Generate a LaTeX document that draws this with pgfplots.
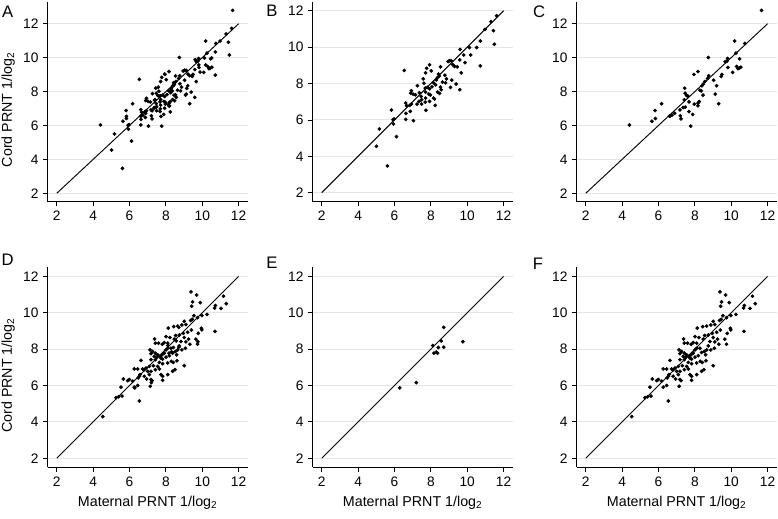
\documentclass[border=0pt]{standalone}
\usepackage{pgfplots}
\pgfplotsset{compat=1.18}
\usepackage{pgfplotstable}
\usepackage{fontspec}
\setmainfont{Liberation Sans}

\pgfplotstableread{
x y
11.62 11.73
11.31 11.40
10.98 10.98
11.44 10.91
11.49 10.16
10.72 10.34
10.52 9.98
10.12 9.98
9.61 9.88
9.81 9.57
10.19 9.57
9.59 9.30
9.88 9.15
10.72 8.97
9.67 8.59
9.03 9.26
9.12 9.25
8.95 9.21
9.21 9.03
9.30 8.94
9.45 8.92
6.54 8.72
7.93 9.03
7.77 8.84
8.02 8.70
7.71 8.59
8.53 8.92
8.42 8.52
8.46 8.41
8.77 8.46
8.86 8.26
9.15 8.19
9.39 7.97
9.59 7.66
9.08 7.79
8.64 8.08
8.81 8.04
8.37 8.33
8.30 8.20
8.15 8.04
8.26 7.93
8.53 7.80
8.57 7.66
8.37 7.53
8.06 7.82
7.93 7.71
7.82 7.79
7.69 7.75
7.71 7.53
7.58 8.26
7.62 8.02
7.26 7.88
6.93 7.60
6.89 7.47
7.02 7.42
7.15 7.38
7.37 7.49
7.47 7.29
7.71 7.20
7.97 7.37
8.15 7.20
8.20 7.15
7.93 7.02
7.69 6.98
7.49 6.87
7.24 6.87
7.35 7.02
6.93 6.87
6.62 6.93
6.67 6.78
6.84 6.80
8.24 6.80
7.73 6.53
6.87 6.47
6.63 6.36
5.83 6.54
5.98 6.05
5.92 6.01
6.62 6.03
7.04 5.96
5.94 5.78
5.17 5.50
6.11 5.08
5.01 4.55
7.89 7.42
8.48 7.46
7.49 7.11
5.61 3.47
}\tabB

\pgfplotstableread{
x y
11.67 12.79
10.75 10.84
10.19 10.98
10.26 10.27
10.46 9.93
9.80 9.95
9.67 9.76
9.75 9.78
9.82 9.42
10.08 9.13
10.30 9.48
10.44 9.38
10.53 9.44
10.37 9.35
8.74 10.01
9.49 9.01
9.45 8.89
9.03 8.67
8.76 8.93
8.70 8.77
8.17 9.18
7.95 9.01
8.46 8.44
8.55 8.59
8.39 8.34
9.20 8.34
9.12 7.85
9.31 7.28
8.28 8.08
8.35 8.04
8.45 7.79
7.44 8.20
7.47 7.90
7.55 7.77
7.62 7.73
7.42 7.51
7.68 7.39
7.97 7.26
8.17 7.32
8.24 7.41
8.17 7.16
7.36 7.06
7.47 7.08
7.18 6.92
7.68 6.82
7.88 6.65
7.20 6.57
7.24 6.39
6.89 6.72
6.74 6.61
6.65 6.57
6.61 6.55
6.17 7.28
5.81 6.88
5.83 6.41
5.64 6.25
4.40 6.03
7.77 5.96
}\tabC

\pgfplotstableread{
x y
6.29 5.87
7.20 6.16
8.11 8.20
8.17 7.78
8.30 7.84
8.37 7.78
8.41 8.09
8.57 8.45
8.71 9.20
8.71 8.11
9.76 8.41
}\tabE

\pgfplotstableread{
x y
9.38 11.15
9.69 10.98
9.47 10.60
9.89 10.56
9.42 10.36
11.17 10.91
10.72 10.40
10.68 10.26
11.03 10.24
11.32 10.50
10.26 9.91
9.98 9.85
9.54 9.84
9.74 9.73
9.45 9.64
9.36 9.58
9.01 9.53
8.88 9.33
9.10 9.35
8.65 9.27
8.43 9.24
8.13 9.16
9.95 9.15
9.98 9.06
10.70 8.98
9.78 8.87
9.40 9.05
9.20 8.93
8.96 8.87
8.74 8.78
8.54 8.75
8.46 8.55
8.22 8.64
8.01 8.69
7.91 8.36
8.10 8.33
7.38 8.56
7.42 8.33
7.60 8.33
7.80 8.27
9.01 8.64
9.25 8.55
9.65 8.55
9.74 8.27
9.32 8.27
9.10 8.40
8.83 8.42
8.74 8.18
8.88 7.96
9.07 8.05
8.65 7.96
8.52 7.87
8.37 7.82
8.28 8.05
8.10 8.05
8.01 7.96
7.91 7.78
7.79 7.69
7.68 7.60
7.55 7.69
7.42 7.78
7.27 7.87
7.13 7.96
7.18 7.75
7.36 7.60
7.51 7.56
7.73 7.51
7.82 7.45
8.01 7.56
8.19 7.64
8.59 7.69
8.61 7.36
8.30 7.33
8.41 7.27
8.10 7.24
7.82 7.20
7.64 7.27
7.42 7.42
7.18 7.42
7.09 7.05
6.91 6.96
6.81 6.87
6.72 6.91
7.00 6.78
7.31 7.09
7.55 7.05
7.64 6.91
7.42 6.87
7.18 6.78
7.09 6.60
7.73 6.60
7.82 6.51
7.82 6.29
8.10 6.60
8.37 6.78
8.50 6.87
9.01 7.09
6.63 7.38
6.45 6.91
6.26 6.91
6.58 6.60
6.54 6.51
6.48 6.42
6.81 6.51
6.94 6.36
7.18 6.33
7.24 6.27
7.14 5.96
6.45 6.00
6.26 5.91
5.99 6.33
5.90 6.27
5.66 6.36
6.17 6.24
5.53 5.91
5.59 5.42
5.40 5.38
5.26 5.33
6.54 5.15
4.53 4.29
}\tabF

\pgfplotsset{
  panel/.style={
    scale only axis, width=150pt, height=150pt,
    xmin=1.5, xmax=12.5, ymin=1.5, ymax=12.5,
    axis lines=left, axis line style={-, line width=0.6pt},
    xtick={2,4,...,12}, ytick={2,4,...,12},
    tick align=outside, major tick length=3.4pt,
    tick style={black, line width=0.6pt},
    ymajorgrids, grid style={black!10, line width=0.7pt},
    /pgf/number format/assume math mode=true,
    tick label style={font=\fontsize{10.3}{12}\selectfont},
    label style={font=\fontsize{10.7}{13}\selectfont},
    ylabel style={at={(axis description cs:-0.197,0.46)}, anchor=center},
    xlabel style={at={(axis description cs:0.5,-0.178)}, anchor=center},
  },
  pts/.style={only marks, mark=*, mark size=1.2pt, black},
  diag/.style={black, line width=0.7pt, no marks},
}

\begin{document}
\begin{tikzpicture}
\useasboundingbox (0,0) rectangle (583.5pt,388.5pt);

% A
\begin{axis}[panel, at={(35.78pt,237.2pt)}, anchor=south west, ymax=13.3,
  ylabel={Cord PRNT 1/log\textsubscript{2}}]
\addplot[diag] coordinates {(2,2) (12,12)};
\addplot[pts] table {\tabB};
\addplot[pts] table {\tabC};
\end{axis}

% B
\begin{axis}[panel, at={(234.5pt,237.2pt)}, anchor=south west]
\addplot[diag] coordinates {(2,2) (12,12)};
\addplot[pts] table {\tabB};
\end{axis}

% C
\begin{axis}[panel, at={(432.5pt,237.2pt)}, anchor=south west, ymax=13.3]
\addplot[diag] coordinates {(2,2) (12,12)};
\addplot[pts] table {\tabC};
\end{axis}

% D
\begin{axis}[panel, at={(35.78pt,38.0pt)}, anchor=south west,
  ylabel={Cord PRNT 1/log\textsubscript{2}},
  xlabel={Maternal PRNT 1/log\textsubscript{2}}]
\addplot[diag] coordinates {(2,2) (12,12)};
\addplot[pts] table {\tabE};
\addplot[pts] table {\tabF};
\end{axis}

% E
\begin{axis}[panel, at={(234.5pt,38.0pt)}, anchor=south west,
  xlabel={Maternal PRNT 1/log\textsubscript{2}}]
\addplot[diag] coordinates {(2,2) (12,12)};
\addplot[pts] table {\tabE};
\end{axis}

% F
\begin{axis}[panel, at={(432.5pt,38.0pt)}, anchor=south west,
  xlabel={Maternal PRNT 1/log\textsubscript{2}}]
\addplot[diag] coordinates {(2,2) (12,12)};
\addplot[pts] table {\tabF};
\end{axis}

\node[font=\fontsize{12.5}{14}\selectfont] at (5.8pt,379.5pt) {A};
\node[font=\fontsize{12.5}{14}\selectfont] at (204pt,380.6pt) {B};
\node[font=\fontsize{12.5}{14}\selectfont] at (404.3pt,379.9pt) {C};
\node[font=\fontsize{12.5}{14}\selectfont] at (5.8pt,193.5pt) {D};
\node[font=\fontsize{12.5}{14}\selectfont] at (204pt,191.6pt) {E};
\node[font=\fontsize{12.5}{14}\selectfont] at (403.5pt,190.5pt) {F};
\end{tikzpicture}
\end{document}
